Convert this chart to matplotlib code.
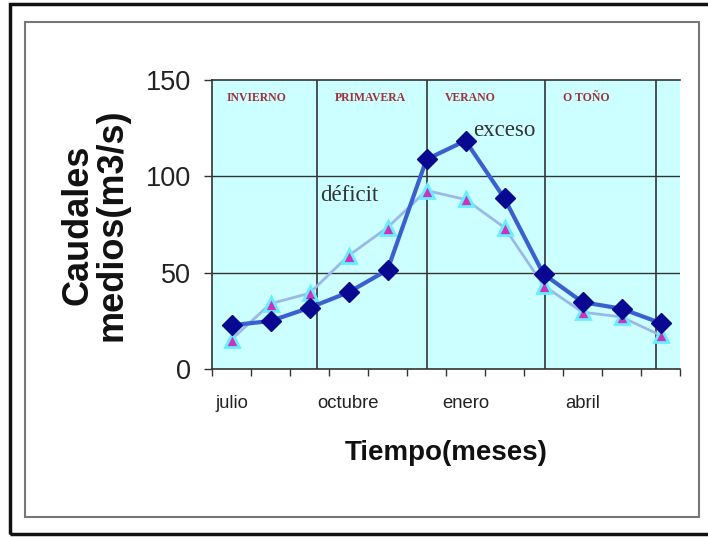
import matplotlib
matplotlib.use("Agg")
import matplotlib.pyplot as plt
from matplotlib.patches import Rectangle
import numpy as np

# datos (julio .. junio)
meses = ["jul", "ago", "sep", "oct", "nov", "dic", "ene", "feb", "mar", "abr", "may", "jun"]
exceso = [22.7, 24.9, 31.8, 39.8, 51.4, 108.8, 118.5, 88.5, 49.3, 34.7, 31.3, 23.9]
deficit = [15.3, 33.9, 39.3, 58.8, 73.4, 92.6, 88.0, 73.4, 43.3, 29.5, 27.0, 17.5]
etiquetas_x = ["julio", "octubre", "enero", "abril"]
pos_etiquetas = [0, 3, 6, 9]
estaciones = ["INVIERNO", "PRIMAVERA", "VERANO", "O TOÑO"]
pos_estaciones = [0.63, 3.55, 6.12, 9.09]
limites_estaciones = [2.2, 5.0, 8.05, 10.88]

sans = ["Liberation Sans", "DejaVu Sans"]

fig = plt.figure(figsize=(7.08, 5.37), dpi=100)
fig.patch.set_facecolor("white")
ax = fig.add_axes([212/708, 1-369/537, (680-212)/708, (369-80)/537])
ax.set_facecolor("#ccffff")

x = np.arange(len(meses))
ax.plot(x, deficit, "-", color="#9ab8e8", lw=2, zorder=3)
ax.plot(x, deficit, "^", ms=10, mfc="#cc33bb", mec="#66eeff", mew=2, zorder=4)
ax.plot(x, exceso, "-", color="#3a60d0", lw=3, zorder=5)
ax.plot(x, exceso, "D", ms=10.5, color="#080890", zorder=6)

for v in [50, 100]:
    ax.axhline(v, color="#333333", lw=1, zorder=2)
for v in limites_estaciones:
    ax.axvline(v, color="#333333", lw=1.2, zorder=2)

for s, p in zip(estaciones, pos_estaciones):
    ax.text(p, 140.5, s, ha="center", va="center", fontsize=8.5, color="#a0303a",
            family="Liberation Serif", fontweight="bold")
ax.text(6.2, 124, "exceso", ha="left", va="center", fontsize=16.5,
        family="Liberation Serif", color="#333333", zorder=7)
ax.text(2.27, 90.3, "déficit", ha="left", va="center", fontsize=16.5,
        family="Liberation Serif", color="#333333", zorder=7)

ax.set_xlim(-0.5, 11.5)
ax.set_ylim(0, 150)
ax.set_yticks([0, 50, 100, 150])
ax.set_yticklabels(["0", "50", "100", "150"], family=sans, fontsize=19.5, color="#222222")
ax.tick_params(axis="y", length=6, width=1, pad=9, color="#333333")

ax.set_xticks(np.arange(-0.5, 12, 1))
ax.set_xticklabels([])
ax.set_xticks(pos_etiquetas, minor=True)
ax.set_xticklabels(etiquetas_x, minor=True, family=sans, fontsize=13.3, color="#222222")
ax.tick_params(axis="x", which="major", length=5, width=1, color="#333333")
ax.tick_params(axis="x", which="minor", length=0, pad=19)

for sp in ["left", "bottom", "top"]:
    ax.spines[sp].set_color("#333333")
    ax.spines[sp].set_linewidth(1.2)
ax.spines["right"].set_visible(False)

ax.set_ylabel("Caudales\nmedios(m3/s)", family=sans, fontweight="bold",
              fontsize=26, linespacing=0.95, labelpad=12, color="#111111")
ax.set_xlabel("Tiempo(meses)", family=sans, fontweight="bold", fontsize=20,
              labelpad=20, color="#111111")

# marcos exteriores
fig.add_artist(Rectangle((10/708, 1-534/537), 720/708, 530/537, transform=fig.transFigure,
                         fill=False, ec="#111111", lw=2.5))
fig.add_artist(Rectangle((25/708, 1-517/537), 674/708, 495/537, transform=fig.transFigure,
                         fill=False, ec="#777777", lw=1.5))

fig.savefig("out.png", dpi=100)
